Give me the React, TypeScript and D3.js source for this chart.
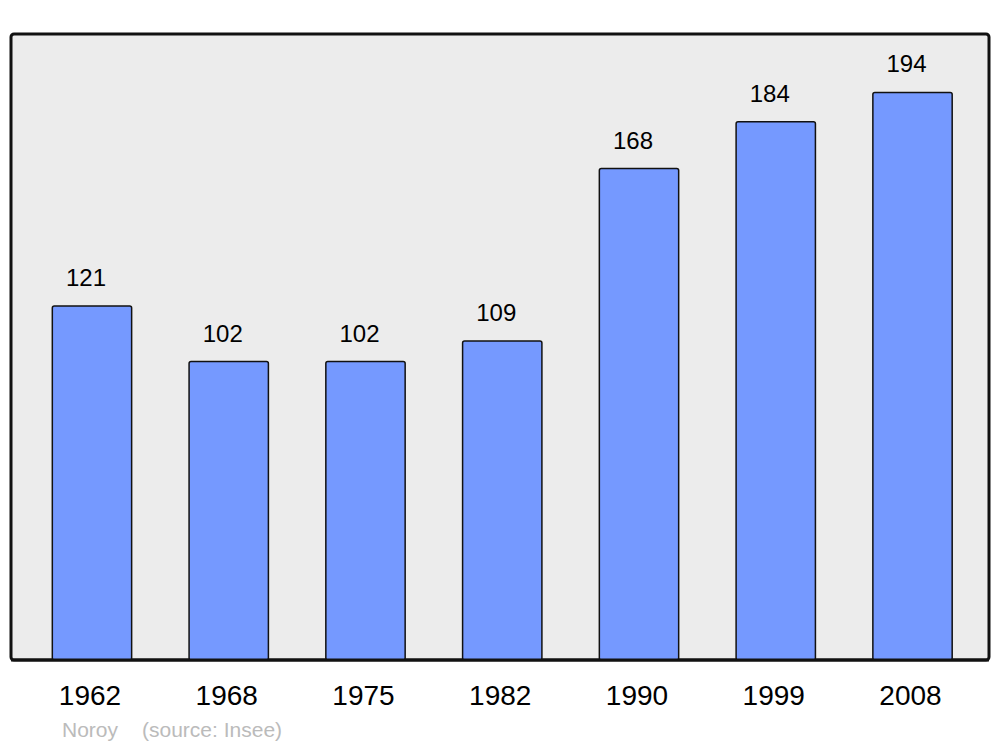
import React, { useEffect, useRef } from 'react';
import * as d3 from 'd3';

const years = ['1962', '1968', '1975', '1982', '1990', '1999', '2008'];
const population = [121, 102, 102, 109, 168, 184, 194];
const commune = 'Noroy';
const source = '(source: Insee)';

export default function App() {
  const svgRef = useRef<SVGSVGElement>(null);

  useEffect(() => {
    if (!svgRef.current) return;
    const svg = d3.select(svgRef.current);
    svg.selectAll('*').remove();

    const frame = { left: 11, right: 989, top: 34, bottom: 660 };

    const x = d3.scaleBand<string>()
      .domain(years)
      .range([23.6, 980.9])
      .paddingInner(0.42)
      .paddingOuter(0.21);

    const y = d3.scaleLinear()
      .domain([0, d3.max(population)! * 1.103])
      .range([frame.bottom, frame.top]);

    svg.append('rect')
      .attr('x', frame.left)
      .attr('y', frame.top)
      .attr('width', frame.right - frame.left)
      .attr('height', frame.bottom - frame.top)
      .attr('rx', 3)
      .attr('fill', '#ececec')
      .attr('stroke', '#111')
      .attr('stroke-width', 3);

    const data = years.map((yr, i) => ({ yr, v: population[i] }));

    svg.selectAll('rect.bar')
      .data(data)
      .enter()
      .append('rect')
      .attr('class', 'bar')
      .attr('x', d => x(d.yr)!)
      .attr('y', d => y(d.v))
      .attr('width', x.bandwidth())
      .attr('height', d => frame.bottom - y(d.v))
      .attr('rx', 2)
      .attr('fill', '#7599ff')
      .attr('stroke', '#111')
      .attr('stroke-width', 1.5);

    // redraw bottom edge of frame over bars
    svg.append('line')
      .attr('x1', frame.left)
      .attr('x2', frame.right)
      .attr('y1', frame.bottom)
      .attr('y2', frame.bottom)
      .attr('stroke', '#111')
      .attr('stroke-width', 3);

    svg.selectAll('text.val')
      .data(data)
      .enter()
      .append('text')
      .attr('class', 'val')
      .attr('x', d => x(d.yr)! + x.bandwidth() / 2 - 6)
      .attr('y', d => y(d.v) - 20)
      .attr('text-anchor', 'middle')
      .attr('font-family', 'Liberation Sans, Arial, sans-serif')
      .attr('font-size', 24)
      .attr('fill', '#000')
      .text(d => d.v);

    svg.selectAll('text.year')
      .data(years)
      .enter()
      .append('text')
      .attr('class', 'year')
      .attr('x', d => x(d)! + x.bandwidth() / 2 - 2)
      .attr('y', 705)
      .attr('text-anchor', 'middle')
      .attr('font-family', 'Liberation Sans, Arial, sans-serif')
      .attr('font-size', 28)
      .attr('fill', '#000')
      .text(d => d);

    const foot = svg.append('g')
      .attr('font-family', 'Liberation Sans, Arial, sans-serif')
      .attr('font-size', 21)
      .attr('fill', '#bbbbbb');
    foot.append('text').attr('x', 62).attr('y', 737).text(commune);
    foot.append('text').attr('x', 142).attr('y', 737).text(source);
  }, []);

  return (
    <svg
      ref={svgRef}
      width={1000}
      height={747}
      style={{ position: 'absolute', left: 0, top: 0, background: '#fff' }}
    />
  );
}
